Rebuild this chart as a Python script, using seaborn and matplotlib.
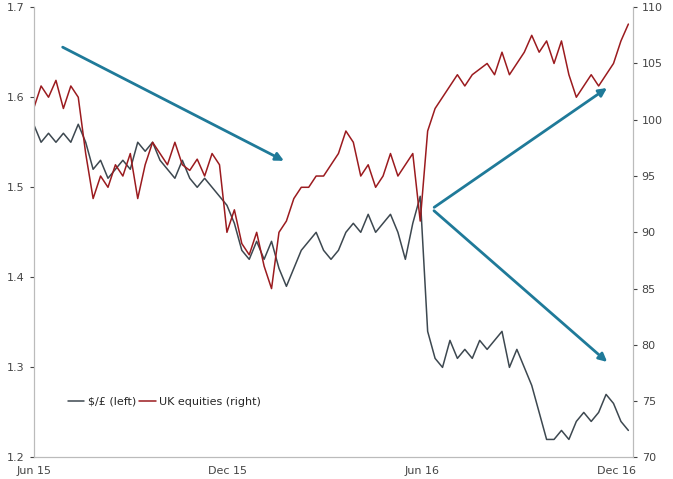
import pandas as pd
import numpy as np
import seaborn as sns
import matplotlib.pyplot as plt
import matplotlib.dates as mdates

# weekly readings, Jun 2015 - Dec 2016
dates = pd.date_range('2015-06-01', periods=81, freq='7D')
gbp = [1.57, 1.55, 1.56, 1.55, 1.56, 1.55, 1.57, 1.55, 1.52, 1.53, 1.51, 1.52, 1.53, 1.52,
       1.55, 1.54, 1.55, 1.53, 1.52, 1.51, 1.53, 1.51, 1.50, 1.51, 1.50, 1.49, 1.48, 1.46,
       1.43, 1.42, 1.44, 1.42, 1.44, 1.41, 1.39, 1.41, 1.43, 1.44, 1.45, 1.43, 1.42, 1.43,
       1.45, 1.46, 1.45, 1.47, 1.45, 1.46, 1.47, 1.45, 1.42, 1.46, 1.49, 1.34, 1.31, 1.30,
       1.33, 1.31, 1.32, 1.31, 1.33, 1.32, 1.33, 1.34, 1.30, 1.32, 1.30, 1.28, 1.25, 1.22,
       1.22, 1.23, 1.22, 1.24, 1.25, 1.24, 1.25, 1.27, 1.26, 1.24, 1.23]
equities = [101, 103, 102, 103.5, 101, 103, 102, 97, 93, 95, 94, 96, 95, 97, 93, 96, 98, 97,
            96, 98, 96, 95.5, 96.5, 95, 97, 96, 90, 92, 89, 88, 90, 87, 85, 90, 91, 93, 94, 94,
            95, 95, 96, 97, 99, 98, 95, 96, 94, 95, 97, 95, 96, 97, 91, 99, 101, 102, 103, 104,
            103, 104, 104.5, 105, 104, 106, 104, 105, 106, 107.5, 106, 107, 105, 107, 104, 102,
            103, 104, 103, 104, 105, 107, 108.5]
tick_dates = ['2015-06-01', '2015-12-01', '2016-06-01', '2016-12-01']
tick_labels = ['Jun 15', 'Dec 15', 'Jun 16', 'Dec 16']

df = pd.DataFrame({'date': dates, 'gbp': gbp, 'eq': equities})

sns.set_style('white')
fig, ax = plt.subplots(figsize=(6.73, 4.79), dpi=100)
ax2 = ax.twinx()

sns.lineplot(data=df, x='date', y='gbp', ax=ax, color='#3d4850', lw=1.1, label='$/£ (left)', legend=False)
sns.lineplot(data=df, x='date', y='eq', ax=ax2, color='#9b1b1f', lw=1.1, label='UK equities (right)', legend=False)

ax.set_ylim(1.2, 1.7)
ax2.set_ylim(70, 110)
ax.set_xlim(pd.Timestamp('2015-06-01'), pd.Timestamp('2016-12-16'))
ax.set_xticks(pd.to_datetime(tick_dates))
ax.set_xticklabels(tick_labels)
ax.set_xlabel('')
ax.set_ylabel('')
ax2.set_ylabel('')

for a in (ax, ax2):
    a.tick_params(labelsize=8, colors='#444444', length=3)
    for s in a.spines.values():
        s.set_color('#bbbbbb')
    a.spines['top'].set_visible(False)

# trend arrows
arrow = dict(arrowstyle='-|>', color='#1f7a99', lw=2, mutation_scale=12)
ax.annotate('', xy=(mdates.date2num(pd.Timestamp('2016-01-25')), 1.528),
            xytext=(mdates.date2num(pd.Timestamp('2015-06-26')), 1.657), arrowprops=arrow)
start = (mdates.date2num(pd.Timestamp('2016-06-10')), 1.476)
ax.annotate('', xy=(mdates.date2num(pd.Timestamp('2016-11-24')), 1.612), xytext=start, arrowprops=arrow)
ax.annotate('', xy=(mdates.date2num(pd.Timestamp('2016-11-24')), 1.304), xytext=start, arrowprops=arrow)

h1, l1 = ax.get_legend_handles_labels()
h2, l2 = ax2.get_legend_handles_labels()
ax.legend(h1 + h2, l1 + l2, loc='lower left', bbox_to_anchor=(0.04, 0.09), ncol=2, frameon=False,
          fontsize=8, handlelength=1.5, columnspacing=0.3, handletextpad=0.3)

plt.subplots_adjust(left=0.05, right=0.94, top=0.985, bottom=0.045)
plt.savefig('out.png', dpi=100)
